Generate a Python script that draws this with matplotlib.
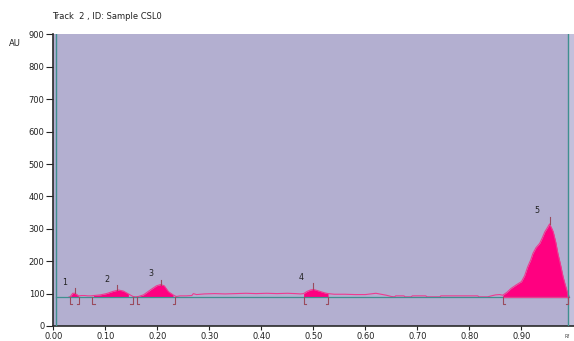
import numpy as np
import matplotlib.pyplot as plt

plt.rcParams['font.family'] = ['DejaVu Sans']

# densitogram trace (Rf vs AU)
rf = [0.030, 0.032, 0.037, 0.041, 0.045, 0.048, 0.054, 0.060, 0.066, 0.072,
      0.077, 0.090, 0.102, 0.115, 0.125, 0.134, 0.144, 0.153, 0.158,
      0.163, 0.173, 0.186, 0.198, 0.206, 0.213, 0.221, 0.230, 0.236,
      0.243, 0.255, 0.266, 0.269, 0.275, 0.29, 0.31, 0.33, 0.35, 0.37, 0.39,
      0.41, 0.43, 0.45, 0.465, 0.475, 0.481, 0.488, 0.494, 0.500, 0.506,
      0.514, 0.522, 0.528, 0.540, 0.560, 0.580, 0.600, 0.610, 0.620, 0.630,
      0.640, 0.650, 0.656, 0.658, 0.674, 0.676, 0.688, 0.690, 0.716, 0.718,
      0.743, 0.745, 0.816, 0.818, 0.835, 0.842, 0.850, 0.858, 0.864, 0.872,
      0.880, 0.890, 0.900, 0.906, 0.912, 0.918, 0.922, 0.928, 0.935, 0.940,
      0.945, 0.950, 0.954, 0.958, 0.961, 0.966, 0.970, 0.975, 0.980, 0.984,
      0.988, 0.992]
au = [90, 90, 101, 101, 97, 93, 94, 94, 93, 93,
      94, 96, 100, 107, 111, 108, 99, 91, 90,
      91, 96, 111, 124, 128, 124, 106, 96, 91,
      93, 93, 94, 100, 97, 99, 100, 99, 100, 101, 100,
      101, 100, 101, 100, 99, 100, 107, 111, 113, 110,
      106, 102, 100, 98, 98, 97, 97, 99, 101, 98,
      95, 91, 90, 93, 93, 90, 90, 93, 93, 90,
      90, 93, 93, 90, 90, 93, 96, 97, 95, 104,
      116, 127, 137, 155, 183, 205, 224, 242, 255, 272,
      291, 304, 315, 302, 291, 258, 224, 190, 152, 128,
      106, 90]

baseline = 90

# integrated peaks
peak_no = ['1', '2', '3', '4', '5']
peak_start = [0.031, 0.075, 0.160, 0.481, 0.864]
peak_end = [0.050, 0.152, 0.234, 0.528, 0.990]
peak_rf = [0.041, 0.123, 0.206, 0.500, 0.954]
peak_au = [101, 111, 128, 113, 315]
peak_top = [116, 127, 142, 132, 337]
label_x = [0.021, 0.103, 0.187, 0.477, 0.930]
label_y = [135, 145, 163, 150, 358]

bg = '#b3afd0'
pink = '#ff0080'
line_pink = '#ee3a90'
teal = '#3f8f8f'
brown = '#9a4a5c'

fig = plt.figure(figsize=(5.74, 3.41), dpi=100)
ax = fig.add_axes([0.0932, 0.044, 0.9068, 0.855])
ax.set_facecolor(bg)

rf = np.array(rf)
au = np.array(au)

for s, e in zip(peak_start, peak_end):
    m = (rf >= s - 1e-9) & (rf <= e + 1e-9)
    ax.fill_between(rf[m], baseline, au[m], color=pink, lw=0, zorder=2)

ax.plot(rf, au, color=line_pink, lw=0.8, zorder=3)
ax.axhline(baseline, xmin=0.005, xmax=0.99, color=teal, lw=0.9, zorder=4)
ax.plot([peak_start[4], peak_end[4]], [baseline, baseline], color=line_pink, lw=0.9, zorder=5)

# peak markers and bracket limits
for i in range(len(peak_no)):
    ax.plot([peak_rf[i], peak_rf[i]], [peak_au[i], peak_top[i]], color=brown, lw=0.8, zorder=6)
    ax.plot([peak_start[i], peak_start[i], peak_start[i] + 0.004], [baseline, 67, 67],
            color=brown, lw=0.8, zorder=6)
    ax.plot([peak_end[i], peak_end[i], peak_end[i] - 0.004], [baseline, 67, 67],
            color=brown, lw=0.8, zorder=6)
    ax.text(label_x[i], label_y[i], peak_no[i], fontsize=5.8, color='#222222',
            ha='center', va='center')

ax.axvline(0.005, color=teal, lw=1.0, zorder=4)
ax.axvline(0.99, color=teal, lw=1.0, zorder=4)
ax.axvspan(0.992, 1.001, color='#c4c0dc', lw=0, zorder=1)

ax.set_xlim(0, 1.001)
ax.set_ylim(0, 900)
ax.set_xticks(np.arange(0, 0.95, 0.1))
ax.set_xticklabels(['%.2f' % v for v in np.arange(0, 0.95, 0.1)])
ax.set_yticks(range(0, 901, 100))
ax.tick_params(axis='y', labelsize=6, length=5, width=0.8, pad=1.5, colors='#222222')
ax.tick_params(axis='x', labelsize=6, length=3, width=0.8, pad=1.5, colors='#222222')
for side in ['top', 'right']:
    ax.spines[side].set_visible(False)
for side in ['left', 'bottom']:
    ax.spines[side].set_linewidth(1.2)
    ax.spines[side].set_color('#2a2a2a')

fig.text(0.09, 0.953, 'Track  2 , ID: Sample CSL0', fontsize=6, color='#222222', va='center')
fig.text(0.015, 0.873, 'AU', fontsize=6, color='#222222', va='center')
fig.text(0.984, 0.012, 'Rf', fontsize=3.5, color='#444444', va='center')

fig.savefig('out.png', dpi=100)
